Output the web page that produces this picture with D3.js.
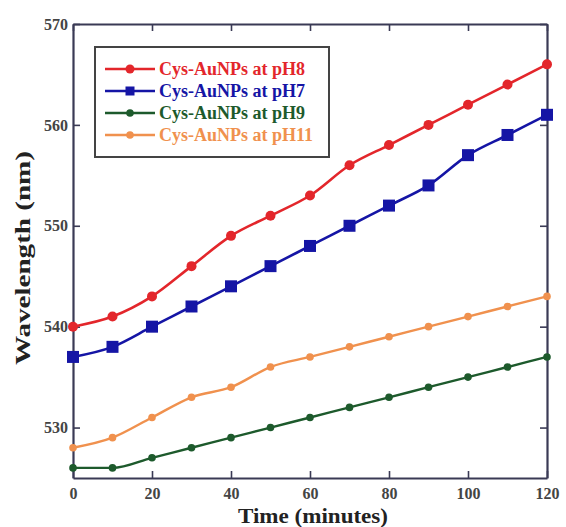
<!DOCTYPE html>
<html>
<head>
<meta charset="utf-8">
<script src="https://cdn.jsdelivr.net/npm/d3@7/dist/d3.min.js"></script>
<style>
  html, body { margin: 0; padding: 0; background: #fff; }
  svg { display: block; }
  text { font-family: "Liberation Serif", "DejaVu Serif", serif; }
</style>
</head>
<body>
<svg id="chart" width="566" height="527"></svg>
<script>
// Time points (minutes)
const times = [0, 10, 20, 30, 40, 50, 60, 70, 80, 90, 100, 110, 120];

// Absorption peak wavelength (nm) for each pH
const pH8  = [540, 541, 543, 546, 549, 551, 553, 556, 558, 560, 562, 564, 566];
const pH7  = [537, 538, 540, 542, 544, 546, 548, 550, 552, 554, 557, 559, 561];
const pH9  = [526, 526, 527, 528, 529, 530, 531, 532, 533, 534, 535, 536, 537];
const pH11 = [528, 529, 531, 533, 534, 536, 537, 538, 539, 540, 541, 542, 543];

const seriesNames = ["Cys-AuNPs at pH8", "Cys-AuNPs at pH7", "Cys-AuNPs at pH9", "Cys-AuNPs at pH11"];

const xTicks = [0, 20, 40, 60, 80, 100, 120];
const yTicks = [530, 540, 550, 560, 570];

const series = [
  { name: seriesNames[0], values: pH8,  color: "#e3262b", shape: "circle", size: 5,   width: 2.6 },
  { name: seriesNames[1], values: pH7,  color: "#1515a5", shape: "square", size: 6,   width: 2.6 },
  { name: seriesNames[2], values: pH9,  color: "#1d5a2c", shape: "circle", size: 3.8, width: 2.4 },
  { name: seriesNames[3], values: pH11, color: "#f0914e", shape: "circle", size: 3.8, width: 2.4 }
];

const svg = d3.select("#chart");
const m = { left: 73, right: 547, top: 24, bottom: 478 };

const x = d3.scaleLinear().domain([0, 120]).range([m.left, m.right]);
const y = d3.scaleLinear().domain([525, 570]).range([m.bottom, m.top]);

const axisColor = "#3a3a55";

// Axes with inward ticks on all four sides
const gx = svg.append("g").attr("transform", `translate(0,${m.bottom})`)
  .call(d3.axisBottom(x).tickValues(xTicks).tickSizeInner(-7).tickSizeOuter(0).tickPadding(10));
const gxTop = svg.append("g").attr("transform", `translate(0,${m.top})`)
  .call(d3.axisTop(x).tickValues(xTicks).tickSizeInner(-7).tickSizeOuter(0).tickFormat(""));
const gy = svg.append("g").attr("transform", `translate(${m.left},0)`)
  .call(d3.axisLeft(y).tickValues(yTicks).tickSizeInner(-7).tickSizeOuter(0).tickPadding(5));
const gyRight = svg.append("g").attr("transform", `translate(${m.right},0)`)
  .call(d3.axisRight(y).tickValues(yTicks).tickSizeInner(-7).tickSizeOuter(0).tickFormat(""));

[gx, gxTop, gy, gyRight].forEach(g => {
  g.select(".domain").attr("stroke", axisColor).attr("stroke-width", 2.2);
  g.selectAll(".tick line").attr("stroke", axisColor).attr("stroke-width", 1.6);
  g.selectAll(".tick text")
    .attr("fill", "#444")
    .attr("font-size", 16)
    .attr("font-weight", "bold")
    .style("font-family", "'Liberation Serif', serif");
});

// Smoothed lines through every data point (no overshoot), with markers
const line = d3.line()
  .x((d, i) => x(times[i]))
  .y(d => y(d))
  .curve(d3.curveMonotoneX);

function drawMarker(g, s, cx, cy) {
  if (s.shape === "square") {
    g.append("rect")
      .attr("x", cx - s.size).attr("y", cy - s.size)
      .attr("width", s.size * 2).attr("height", s.size * 2)
      .attr("fill", s.color);
  } else {
    g.append("circle")
      .attr("cx", cx).attr("cy", cy).attr("r", s.size)
      .attr("fill", s.color);
  }
}

series.forEach(s => {
  const g = svg.append("g");
  g.append("path")
    .datum(s.values)
    .attr("d", line)
    .attr("fill", "none")
    .attr("stroke", s.color)
    .attr("stroke-width", s.width);
  s.values.forEach((v, i) => drawMarker(g, s, x(times[i]), y(v)));
});

// Legend
const legend = svg.append("g");
legend.append("rect")
  .attr("x", 95).attr("y", 47).attr("width", 234).attr("height", 110)
  .attr("fill", "#fff").attr("stroke", "#444").attr("stroke-width", 2);

series.forEach((s, i) => {
  const ly = 69 + i * 22;
  legend.append("line")
    .attr("x1", 105).attr("x2", 155).attr("y1", ly).attr("y2", ly)
    .attr("stroke", s.color).attr("stroke-width", s.width);
  const ms = Object.assign({}, s, { size: s.shape === "square" ? 4.5 : Math.min(s.size, 4.5) });
  drawMarker(legend, ms, 130, ly);
  legend.append("text")
    .attr("x", 159).attr("y", ly + 6)
    .attr("fill", s.color)
    .attr("font-size", 18)
    .attr("font-weight", "bold")
    .text(s.name);
});

// Axis titles
svg.append("text")
  .attr("x", 313).attr("y", 523)
  .attr("text-anchor", "middle")
  .attr("font-size", 22)
  .attr("font-weight", "bold")
  .attr("fill", "#222")
  .attr("textLength", 150)
  .attr("lengthAdjust", "spacingAndGlyphs")
  .text("Time (minutes)");

svg.append("text")
  .attr("transform", "translate(30,258) rotate(-90)")
  .attr("text-anchor", "middle")
  .attr("font-size", 21)
  .attr("font-weight", "bold")
  .attr("fill", "#222")
  .attr("textLength", 214)
  .attr("lengthAdjust", "spacingAndGlyphs")
  .text("Wavelength (nm)");
</script>
</body>
</html>
